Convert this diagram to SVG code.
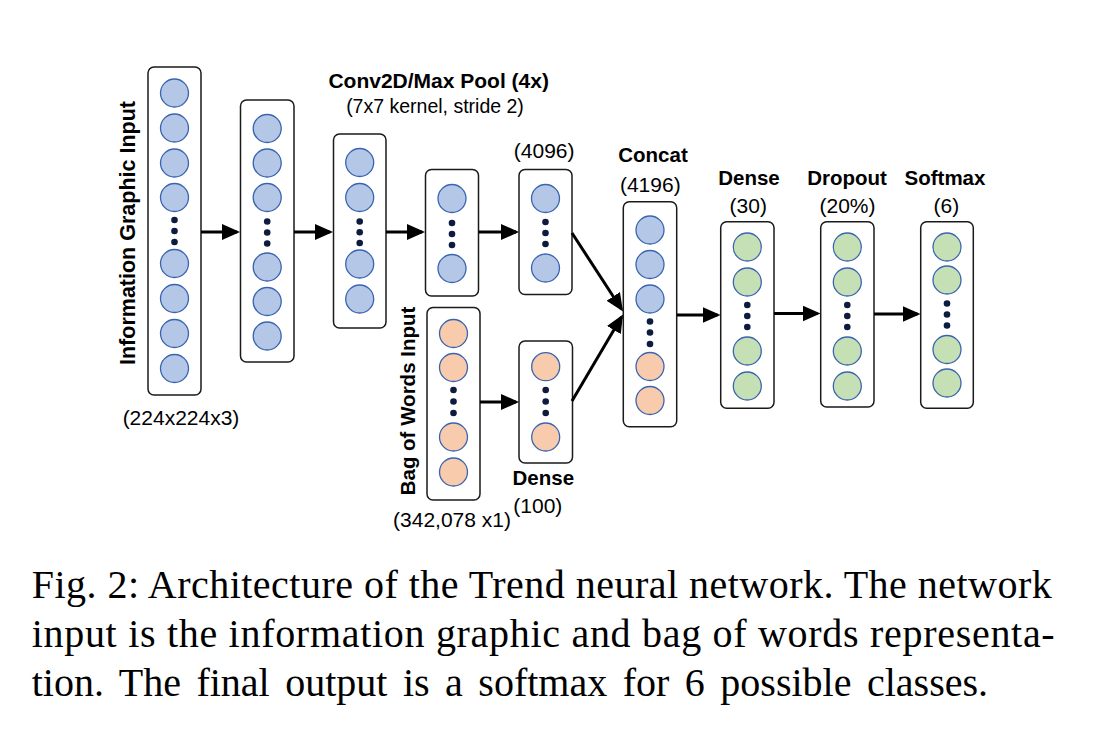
<svg xmlns="http://www.w3.org/2000/svg" width="1114" height="738" viewBox="0 0 1114 738">
<style>
.box{fill:#fff;stroke:#1a1a1a;stroke-width:1.5}
.cb{fill:#B4C7E7;stroke:#3A64B0;stroke-width:1.3}
.co{fill:#F8CBAD;stroke:#3A64B0;stroke-width:1.3}
.cg{fill:#C5E0B4;stroke:#3A64B0;stroke-width:1.3}
.dot{fill:#0d1b3e}
.lb{font-family:"Liberation Sans",Arial,sans-serif;font-weight:bold;font-size:20.5px;fill:#000;text-anchor:middle}
.lr{font-family:"Liberation Sans",Arial,sans-serif;font-size:21px;fill:#000;text-anchor:middle}
.cap{font-family:"Liberation Serif","Times New Roman",serif;font-size:40px;fill:#000}
.arr{stroke:#000;stroke-width:3;fill:none;marker-end:url(#ah)}
</style>
<defs>
<marker id="ah" markerUnits="userSpaceOnUse" markerWidth="18" markerHeight="16" refX="15" refY="8" orient="auto">
<path d="M0,0 L18,8 L0,16 z" fill="#000"/>
</marker>
</defs>
<rect width="1114" height="738" fill="#fff"/>

<g id="input-graphic">
<rect class="box" x="148" y="67" width="53" height="328" rx="6"/>
<circle class="cb" cx="174.5" cy="93" r="14"/>
<circle class="cb" cx="174.5" cy="128" r="14"/>
<circle class="cb" cx="174.5" cy="163" r="14"/>
<circle class="cb" cx="174.5" cy="197.5" r="14"/>
<circle class="dot" cx="174.5" cy="220" r="3.3"/>
<circle class="dot" cx="174.5" cy="231" r="3.3"/>
<circle class="dot" cx="174.5" cy="242" r="3.3"/>
<circle class="cb" cx="174.5" cy="263.5" r="14"/>
<circle class="cb" cx="174.5" cy="298.5" r="14"/>
<circle class="cb" cx="174.5" cy="333.5" r="14"/>
<circle class="cb" cx="174.5" cy="368.5" r="14"/>
<text class="lb" style="font-size:21.5px" transform="translate(135,233) rotate(-90)">Information Graphic Input</text>
<text class="lr" x="181" y="425">(224x224x3)</text>
</g>

<g id="conv1">
<rect class="box" x="240.5" y="100" width="53.5" height="262" rx="6"/>
<circle class="cb" cx="267.2" cy="128.5" r="14"/>
<circle class="cb" cx="267.2" cy="163" r="14"/>
<circle class="cb" cx="267.2" cy="197.5" r="14"/>
<circle class="dot" cx="267.2" cy="221.5" r="3.3"/>
<circle class="dot" cx="267.2" cy="232.5" r="3.3"/>
<circle class="dot" cx="267.2" cy="243.5" r="3.3"/>
<circle class="cb" cx="267.2" cy="267" r="14"/>
<circle class="cb" cx="267.2" cy="301.5" r="14"/>
<circle class="cb" cx="267.2" cy="336" r="14"/>
</g>

<g id="conv2">
<rect class="box" x="333.5" y="134" width="52.5" height="194" rx="6"/>
<circle class="cb" cx="359.7" cy="162.5" r="14"/>
<circle class="cb" cx="359.7" cy="197.5" r="14"/>
<circle class="dot" cx="359.7" cy="221.5" r="3.3"/>
<circle class="dot" cx="359.7" cy="232.3" r="3.3"/>
<circle class="dot" cx="359.7" cy="243" r="3.3"/>
<circle class="cb" cx="359.7" cy="264" r="14"/>
<circle class="cb" cx="359.7" cy="299" r="14"/>
<text class="lb" style="font-size:21px" x="438.7" y="88">Conv2D/Max Pool (4x)</text>
<text class="lr" style="font-size:19.5px" x="435" y="113">(7x7 kernel, stride 2)</text>
</g>

<g id="conv3">
<rect class="box" x="425.5" y="169.5" width="53" height="126.5" rx="6"/>
<circle class="cb" cx="452" cy="198.5" r="14"/>
<circle class="dot" cx="452" cy="223" r="3.3"/>
<circle class="dot" cx="452" cy="234" r="3.3"/>
<circle class="dot" cx="452" cy="245" r="3.3"/>
<circle class="cb" cx="452" cy="268.5" r="14"/>
</g>

<g id="conv4096">
<rect class="box" x="519" y="169.5" width="53" height="125" rx="6"/>
<circle class="cb" cx="545.5" cy="198.5" r="14"/>
<circle class="dot" cx="545.5" cy="222" r="3.3"/>
<circle class="dot" cx="545.5" cy="233" r="3.3"/>
<circle class="dot" cx="545.5" cy="244" r="3.3"/>
<circle class="cb" cx="545.5" cy="268" r="14"/>
<text class="lr" x="544.2" y="158">(4096)</text>
</g>

<g id="bag-input">
<rect class="box" x="427" y="307.5" width="53" height="192.5" rx="6"/>
<circle class="co" cx="453.5" cy="333.5" r="14"/>
<circle class="co" cx="453.5" cy="367.5" r="14"/>
<circle class="dot" cx="453.5" cy="390" r="3.3"/>
<circle class="dot" cx="453.5" cy="401.5" r="3.3"/>
<circle class="dot" cx="453.5" cy="413" r="3.3"/>
<circle class="co" cx="453.5" cy="437" r="14"/>
<circle class="co" cx="453.5" cy="472" r="14"/>
<text class="lb" transform="translate(415,401) rotate(-90)">Bag of Words Input</text>
<text class="lr" x="452" y="527">(342,078 x1)</text>
</g>

<g id="dense100">
<rect class="box" x="519" y="341" width="53.5" height="122" rx="6"/>
<circle class="co" cx="545.7" cy="366.7" r="14"/>
<circle class="dot" cx="545.7" cy="390" r="3.3"/>
<circle class="dot" cx="545.7" cy="401.5" r="3.3"/>
<circle class="dot" cx="545.7" cy="413" r="3.3"/>
<circle class="co" cx="545.7" cy="437" r="14"/>
<text class="lb" x="543.3" y="485">Dense</text>
<text class="lr" x="537.8" y="513">(100)</text>
</g>

<g id="concat">
<rect class="box" x="623.3" y="201.7" width="53.4" height="225" rx="6"/>
<circle class="cb" cx="650" cy="230" r="14"/>
<circle class="cb" cx="650" cy="264.5" r="14"/>
<circle class="cb" cx="650" cy="299" r="14"/>
<circle class="dot" cx="650" cy="321.5" r="3.3"/>
<circle class="dot" cx="650" cy="332.5" r="3.3"/>
<circle class="dot" cx="650" cy="344" r="3.3"/>
<circle class="co" cx="650" cy="366.5" r="14"/>
<circle class="co" cx="650" cy="400.5" r="14"/>
<text class="lb" x="653" y="161.5">Concat</text>
<text class="lr" x="650.3" y="191.5">(4196)</text>
</g>

<g id="dense30">
<rect class="box" x="720.7" y="221.7" width="53.3" height="186.6" rx="6"/>
<circle class="cg" cx="747.3" cy="247" r="14"/>
<circle class="cg" cx="747.3" cy="282" r="14"/>
<circle class="dot" cx="747.3" cy="305" r="3.3"/>
<circle class="dot" cx="747.3" cy="316" r="3.3"/>
<circle class="dot" cx="747.3" cy="327" r="3.3"/>
<circle class="cg" cx="747.3" cy="351" r="14"/>
<circle class="cg" cx="747.3" cy="386" r="14"/>
<text class="lb" x="749" y="185">Dense</text>
<text class="lr" x="748.3" y="213">(30)</text>
</g>

<g id="dropout">
<rect class="box" x="820.7" y="221.7" width="53.3" height="185.3" rx="6"/>
<circle class="cg" cx="847.3" cy="247" r="14"/>
<circle class="cg" cx="847.3" cy="282" r="14"/>
<circle class="dot" cx="847.3" cy="305" r="3.3"/>
<circle class="dot" cx="847.3" cy="316" r="3.3"/>
<circle class="dot" cx="847.3" cy="327" r="3.3"/>
<circle class="cg" cx="847.3" cy="351" r="14"/>
<circle class="cg" cx="847.3" cy="386" r="14"/>
<text class="lb" x="847" y="185">Dropout</text>
<text class="lr" x="847.5" y="213">(20%)</text>
</g>

<g id="softmax">
<rect class="box" x="920.7" y="221.7" width="52.6" height="186.6" rx="6"/>
<circle class="cg" cx="947" cy="247" r="14"/>
<circle class="cg" cx="947" cy="280" r="14"/>
<circle class="dot" cx="947" cy="303.5" r="3.3"/>
<circle class="dot" cx="947" cy="314.5" r="3.3"/>
<circle class="dot" cx="947" cy="325.5" r="3.3"/>
<circle class="cg" cx="947" cy="349.5" r="14"/>
<circle class="cg" cx="947" cy="383" r="14"/>
<text class="lb" x="945" y="185">Softmax</text>
<text class="lr" x="946.3" y="213">(6)</text>
</g>

<g id="connectors">
<line class="arr" x1="201" y1="232" x2="237" y2="232"/>
<line class="arr" x1="294" y1="232" x2="330" y2="232"/>
<line class="arr" x1="386" y1="232" x2="422" y2="232"/>
<line class="arr" x1="478.5" y1="232" x2="516" y2="232"/>
<line class="arr" x1="480" y1="402" x2="516" y2="402"/>
<line class="arr" x1="572" y1="233" x2="621.4" y2="309"/>
<line class="arr" x1="572" y1="401" x2="621.5" y2="317.1"/>
<line class="arr" x1="677" y1="315" x2="717.5" y2="315"/>
<line class="arr" x1="774" y1="313.5" x2="817.5" y2="313.5"/>
<line class="arr" x1="874" y1="314" x2="917.5" y2="314"/>
</g>

<g id="caption">
<text class="cap" x="31.7" y="598" textLength="1020" lengthAdjust="spacing">Fig. 2: Architecture of the Trend neural network. The network</text>
<text class="cap" x="31.7" y="647" textLength="1023" lengthAdjust="spacing">input is the information graphic and bag of words representa-</text>
<text class="cap" x="31.7" y="696" word-spacing="5.5">tion. The final output is a softmax for 6 possible classes.</text>
</g>
</svg>
